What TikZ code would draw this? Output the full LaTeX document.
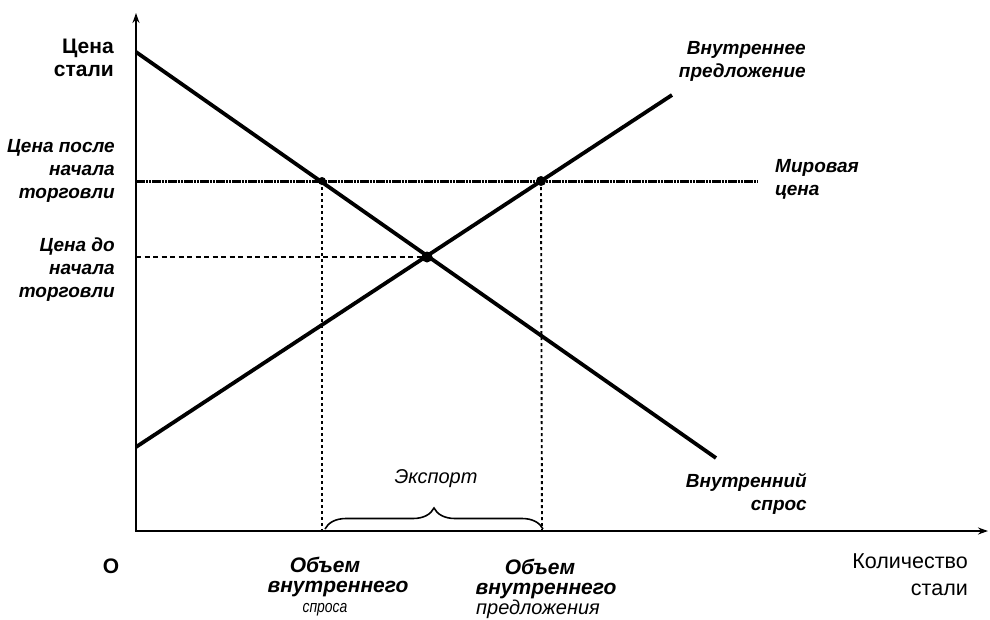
\documentclass[tikz,border=0pt]{standalone}
\usepackage{fontspec}
\setmainfont{Liberation Sans}
\usetikzlibrary{arrows.meta,decorations.pathreplacing}
\begin{document}
\begin{tikzpicture}[x=1pt,y=-1pt,
  axisline/.style={line width=2.3pt,-{Stealth[length=10pt,width=7pt]}},
  curve/.style={line width=3.8pt},
  worldline/.style={line width=3pt,dash pattern=on 2.5pt off 0.7pt},
  guide/.style={line width=1.9pt,dash pattern=on 3pt off 3pt},
  hguide/.style={line width=1.8pt,dash pattern=on 5pt off 3.5pt},
  pt/.style={circle,fill=black,inner sep=0pt,minimum size=8pt},
  lblb/.style={font=\fontsize{21}{23}\selectfont\bfseries,inner sep=0pt},
  lbli/.style={font=\fontsize{19}{23}\selectfont\bfseries\itshape,inner sep=0pt},
  lblq/.style={font=\fontsize{21}{26}\selectfont\bfseries\itshape,inner sep=0pt,anchor=base},
  lowq/.style={text height=10pt,text depth=4.5pt},
  capq/.style={text height=15pt,text depth=0pt},
  lblr/.style={font=\fontsize{21.5}{26}\selectfont,inner sep=0pt,anchor=base east}
]
\useasboundingbox (0,0) rectangle (990,619);
% key coordinates
\coordinate (O) at (136,531);
\coordinate (Ytop) at (136,13);
\coordinate (Xend) at (988,531);
\coordinate (D1) at (136,52);
\coordinate (D2) at (716,458);
\coordinate (S1) at (136,447);
\coordinate (S2) at (672,95);
\coordinate (W1) at (136,181);
\coordinate (W2) at (757,181);
\coordinate (Ey) at (136,257);
\coordinate (Ax) at (322,531);
\coordinate (Bx) at (542,531);
\coordinate (Bl) at (325,529);
\coordinate (Br) at (543,529);
% axes
\draw[axisline] (O) -- (Ytop);
\draw[axisline] ([xshift=-1.2pt]O) -- (Xend);
% world price line
\draw[worldline] (W1) -- (W2);
% demand and supply
\draw[curve] (D1) -- (D2);
\draw[curve] (S1) -- (S2);
% points
\node[pt] (A) at (322,181) {};
\node[pt,minimum size=10pt] (B) at (541,181) {};
\node[pt,minimum size=11pt] (E) at (427,257) {};
% guides
\draw[hguide] (Ey) -- (E.center);
\draw[guide] (A.center) -- (Ax);
\draw[guide] (B.center) -- (Bx);
% brace
\draw[line width=1.6pt,decorate,decoration={brace,amplitude=21pt}] (Bl) -- (Br);
% labels
\node[lblb,align=right,anchor=east] (ps) at (114,58) {Цена\\стали};
\node[lbli,align=right,anchor=east] (pa) at (115,171) {Цена после\\начала\\торговли};
\node[lbli,align=right,anchor=east] (pb) at (115,270) {Цена до\\начала\\торговли};
\node[lbli,align=right,anchor=east] (ls) at (806,61) {Внутреннее\\предложение};
\node[lbli,align=left,anchor=west] (lw) at (775,179) {Мировая\\цена};
\node[lbli,align=right,anchor=east] (ld) at (807,494) {Внутренний\\спрос};
\node[font=\fontsize{20}{22}\selectfont\itshape,inner sep=0pt] (ex) at (436,479) {Экспорт};
\node[lblb] (o) at (111,566) {О};
\node[lblr,capq] (q1) at (968,568) {Количество};
\node[lblr,lowq] (q2) at (968,595) {стали};
\node[lblq,capq] (qd1) at (325,572) {Объем};
\node[lblq,lowq] (qd2) at (338,592) {внутреннего};
\node[font=\fontsize{17}{20}\selectfont\itshape,inner sep=0pt,anchor=base,text height=9pt,text depth=3.5pt] (qd3) at (325,612) {\scalebox{0.82}[1]{спроса}};
\node[lblq,capq] (qs1) at (540,574) {Объем};
\node[lblq,lowq] (qs2) at (546,594) {внутреннего};
\node[font=\fontsize{20}{24}\selectfont\itshape,inner sep=0pt,anchor=base,text height=10pt,text depth=4pt] (qs3) at (538,614) {предложения};
\end{tikzpicture}
\end{document}
